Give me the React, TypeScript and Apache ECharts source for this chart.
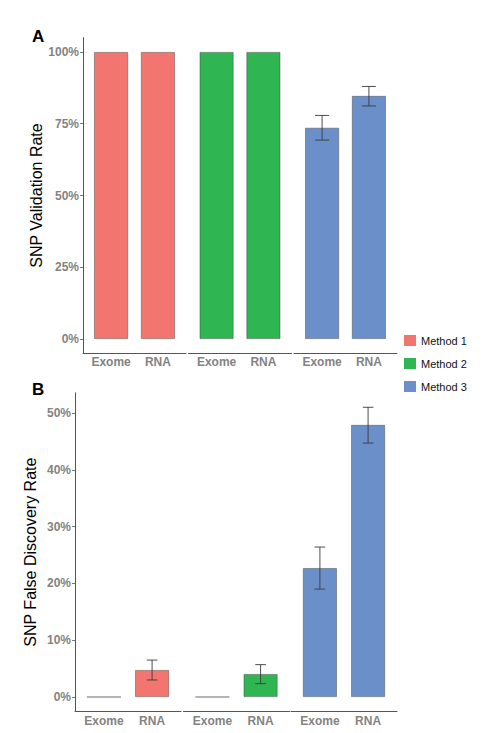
import React, { useEffect, useRef } from "react";
import * as echarts from "echarts";

const categories = ["Exome", "RNA"];
const methods = ["Method 1", "Method 2", "Method 3"];
const methodColors = ["#F2766F", "#2FB552", "#6B8FC9"];

// Panel A: SNP validation rate (%)
const validationRate = [
  [100, 100],
  [100, 100],
  [73.6, 84.7],
];
const validationLow = [
  [null, null],
  [null, null],
  [69.3, 81.2],
];
const validationHigh = [
  [null, null],
  [null, null],
  [77.9, 88.0],
];

// Panel B: SNP false discovery rate (%)
const fdrRate = [
  [0, 4.75],
  [0, 4.05],
  [22.7, 47.9],
];
const fdrLow = [
  [null, 3.0],
  [null, 2.35],
  [19.0, 44.7],
];
const fdrHigh = [
  [null, 6.5],
  [null, 5.7],
  [26.4, 51.0],
];

const yTicksA = [0, 25, 50, 75, 100];
const yTicksB = [0, 10, 20, 30, 40, 50];

const labelFont = "Liberation Sans, Arial, sans-serif";

function buildOption() {
  const grids: any[] = [];
  const xAxes: any[] = [];
  const yAxes: any[] = [];
  const series: any[] = [];

  const panels = [
    {
      top: 37.65,
      height: 315.7,
      lefts: [83, 188.5, 294],
      width: 103,
      min: -5,
      max: 105,
      ticks: yTicksA,
      name: "SNP Validation Rate",
      values: validationRate,
      lows: validationLow,
      highs: validationHigh,
      whisker: 0.15,
    },
    {
      top: 392.8,
      height: 318.7,
      lefts: [75, 183.5, 291],
      width: 106,
      min: -2.55,
      max: 53.55,
      ticks: yTicksB,
      name: "SNP False Discovery Rate",
      values: fdrRate,
      lows: fdrLow,
      highs: fdrHigh,
      whisker: 0.11,
    },
  ];

  panels.forEach((p) => {
    for (let m = 0; m < 3; m++) {
      const gi = grids.length;
      grids.push({
        left: p.lefts[m],
        top: p.top,
        width: p.width,
        height: p.height,
        containLabel: false,
      });
      xAxes.push({
        type: "value",
        gridIndex: gi,
        min: -0.6,
        max: 1.6,
        splitLine: { show: false },
        axisLine: { show: true, onZero: false, lineStyle: { color: "#555", width: 1 } },
        axisTick: { show: false },
        axisLabel: {
          show: true,
          customValues: [0, 1],
          formatter: (v: number) => categories[Math.round(v)],
          color: "#838383",
          fontWeight: "bold",
          fontSize: 12,
          fontFamily: labelFont,
          margin: 3,
        },
      });
      yAxes.push({
        type: "value",
        gridIndex: gi,
        min: p.min,
        max: p.max,
        show: m === 0,
        name: m === 0 ? p.name : "",
        nameLocation: "middle",
        nameGap: 37,
        nameTextStyle: { color: "#000", fontSize: 16, fontFamily: labelFont },
        splitLine: { show: false },
        axisLine: { show: true, onZero: false, lineStyle: { color: "#555", width: 1 } },
        axisTick: { show: true, customValues: p.ticks, length: 3, lineStyle: { color: "#777" } },
        axisLabel: {
          customValues: p.ticks,
          formatter: (v: number) => `${v}%`,
          color: "#838383",
          fontWeight: "bold",
          fontSize: 12,
          fontFamily: labelFont,
          margin: 4,
        },
      });
      series.push({
        type: "bar",
        name: methods[m],
        xAxisIndex: gi,
        yAxisIndex: gi,
        barWidth: 34,
        z: 2,
        itemStyle: {
          color: methodColors[m],
          borderColor: "rgba(60,60,60,0.55)",
          borderWidth: 0.8,
        },
        data: p.values[m].map((v, i) => [i, v]),
      });
      const errData: any[] = [];
      p.values[m].forEach((_, i) => {
        if (p.lows[m][i] != null && p.highs[m][i] != null) {
          errData.push([i, p.lows[m][i], p.highs[m][i]]);
        }
      });
      const wh = p.whisker;
      series.push({
        type: "custom",
        xAxisIndex: gi,
        yAxisIndex: gi,
        silent: true,
        z: 5,
        encode: { x: 0, y: [1, 2] },
        data: errData,
        renderItem: (params: any, api: any) => {
          const x = api.value(0);
          const lo = api.coord([x, api.value(1)]);
          const hi = api.coord([x, api.value(2)]);
          const hw = api.size([wh, 0])[0];
          const style = { stroke: "#3a3a3a", lineWidth: 0.9, fill: null };
          return {
            type: "group",
            children: [
              { type: "line", z2: 10, shape: { x1: lo[0], y1: lo[1], x2: hi[0], y2: hi[1] }, style },
              { type: "line", z2: 10, shape: { x1: hi[0] - hw, y1: hi[1], x2: hi[0] + hw, y2: hi[1] }, style },
              { type: "line", z2: 10, shape: { x1: lo[0] - hw, y1: lo[1], x2: lo[0] + hw, y2: lo[1] }, style },
            ],
          };
        },
      });
    }
  });

  return {
    animation: false,
    backgroundColor: "#fff",
    grid: grids,
    xAxis: xAxes,
    yAxis: yAxes,
    series,
    legend: {
      data: methods,
      orient: "vertical",
      left: 404,
      top: 334.5,
      padding: 0,
      icon: "rect",
      itemWidth: 12,
      itemHeight: 11,
      itemGap: 11,
      selectedMode: false,
      itemStyle: { borderWidth: 0 },
      textStyle: {
        color: "#111",
        fontSize: 11,
        lineHeight: 12,
        fontFamily: "Liberation Sans Narrow, Arial Narrow, Liberation Sans, sans-serif",
      },
    },
    graphic: [
      {
        type: "text",
        left: 32,
        top: 28,
        style: { text: "A", font: "bold 17px Liberation Sans, Arial, sans-serif", fill: "#000" },
      },
      {
        type: "text",
        left: 32,
        top: 381,
        style: { text: "B", font: "bold 17px Liberation Sans, Arial, sans-serif", fill: "#000" },
      },
    ],
  };
}

export default function App() {
  const ref = useRef<HTMLDivElement>(null);
  useEffect(() => {
    if (!ref.current) return;
    const chart = echarts.init(ref.current, undefined, { renderer: "svg" });
    chart.setOption(buildOption() as any);
    return () => chart.dispose();
  }, []);
  return (
    <div
      ref={ref}
      style={{ position: "fixed", left: 0, top: 0, width: 492, height: 733, background: "#fff" }}
    />
  );
}
